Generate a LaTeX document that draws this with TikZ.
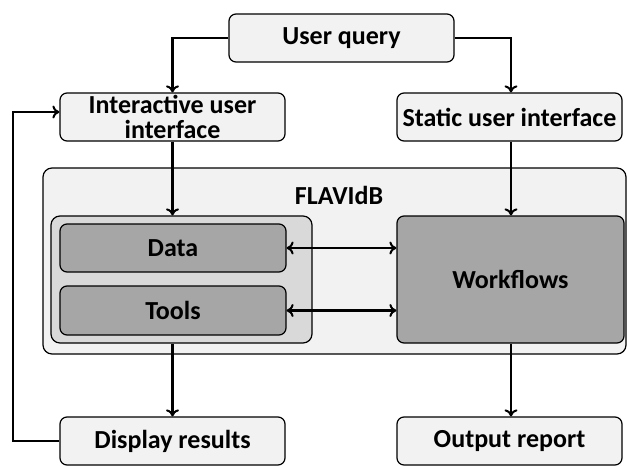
\documentclass[tikz,border=0pt]{standalone}
\usepackage{fontspec}
\setmainfont{Carlito}
\usetikzlibrary{arrows.meta,positioning,calc}
\definecolor{lightbox}{HTML}{F2F2F2}
\definecolor{midbox}{HTML}{D9D9D9}
\definecolor{darkbox}{HTML}{A6A6A6}
\tikzset{
  box/.style={draw=black, line width=1.2pt, rounded corners=7pt, fill=lightbox,
    minimum width=225pt, minimum height=48pt, inner sep=0pt, align=center,
    font=\fontsize{26}{25}\selectfont\bfseries},
  darkitem/.style={box, fill=darkbox},
  arr/.style={line width=2.4pt, -{To[length=7pt,width=13pt,line width=2pt]}},
  darr/.style={line width=2.4pt, {To[length=7pt,width=13pt,line width=2pt]}-{To[length=7pt,width=13pt,line width=2pt]}}
}
\begin{document}
\begin{tikzpicture}[x=1pt,y=-1pt]
\useasboundingbox (0,0) rectangle (627,466);
% outer FLAVIdB container
\node[draw=black, line width=1.2pt, rounded corners=9pt, fill=lightbox,
  minimum width=583pt, minimum height=186pt, inner sep=0pt] (outer) at (334.5,261) {};
\node[font=\fontsize{26}{26}\selectfont\bfseries] (flav) at (339,195) {FLAVIdB};
% inner container
\node[draw=black, line width=1.2pt, rounded corners=9pt, fill=midbox,
  minimum width=261pt, minimum height=127pt, inner sep=0pt] (inner) at (181.5,279.5) {};
\node[darkitem, minimum width=226pt] (data) at (173,248) {Data};
\node[darkitem, minimum width=226pt, minimum height=49pt] (tools) at (173,310.5) {Tools};
\node[darkitem, minimum width=227pt, minimum height=127pt] (wf) at (510.5,279.5) {Workflows};
% top boxes
\node[box] (uq) at (341.5,38) {User query};
\node[box] (iui) at (172.5,117) {Interactive user\\interface};
\node[box] (sui) at (509.5,117) {Static user interface};
% bottom boxes
\node[box] (disp) at (172.5,441) {Display results};
\node[box] (out) at (509.5,441) {Output report};
% connectors
\draw[arr] (uq.west) -| (iui.north);
\draw[arr] (uq.east) -| ([xshift=1.5pt]sui.north);
\draw[arr] (iui.south) -- (iui.south |- inner.north);
\draw[arr] ([xshift=1.5pt]sui.south) -- ([xshift=1.5pt]sui.south |- wf.north);
\draw[darr] (data.east) -- (data.east -| wf.west);
\draw[darr] (tools.east) -- (tools.east -| wf.west);
\draw[arr] (inner.south -| disp.north) -- (disp.north);
\draw[arr] ([xshift=1.5pt]wf.south -| out.north) -- ([xshift=1.5pt]out.north);
\coordinate (fb) at (13,441);
\draw[arr] (disp.west) -- (fb) |- ([yshift=5pt]iui.west);
\end{tikzpicture}
\end{document}
